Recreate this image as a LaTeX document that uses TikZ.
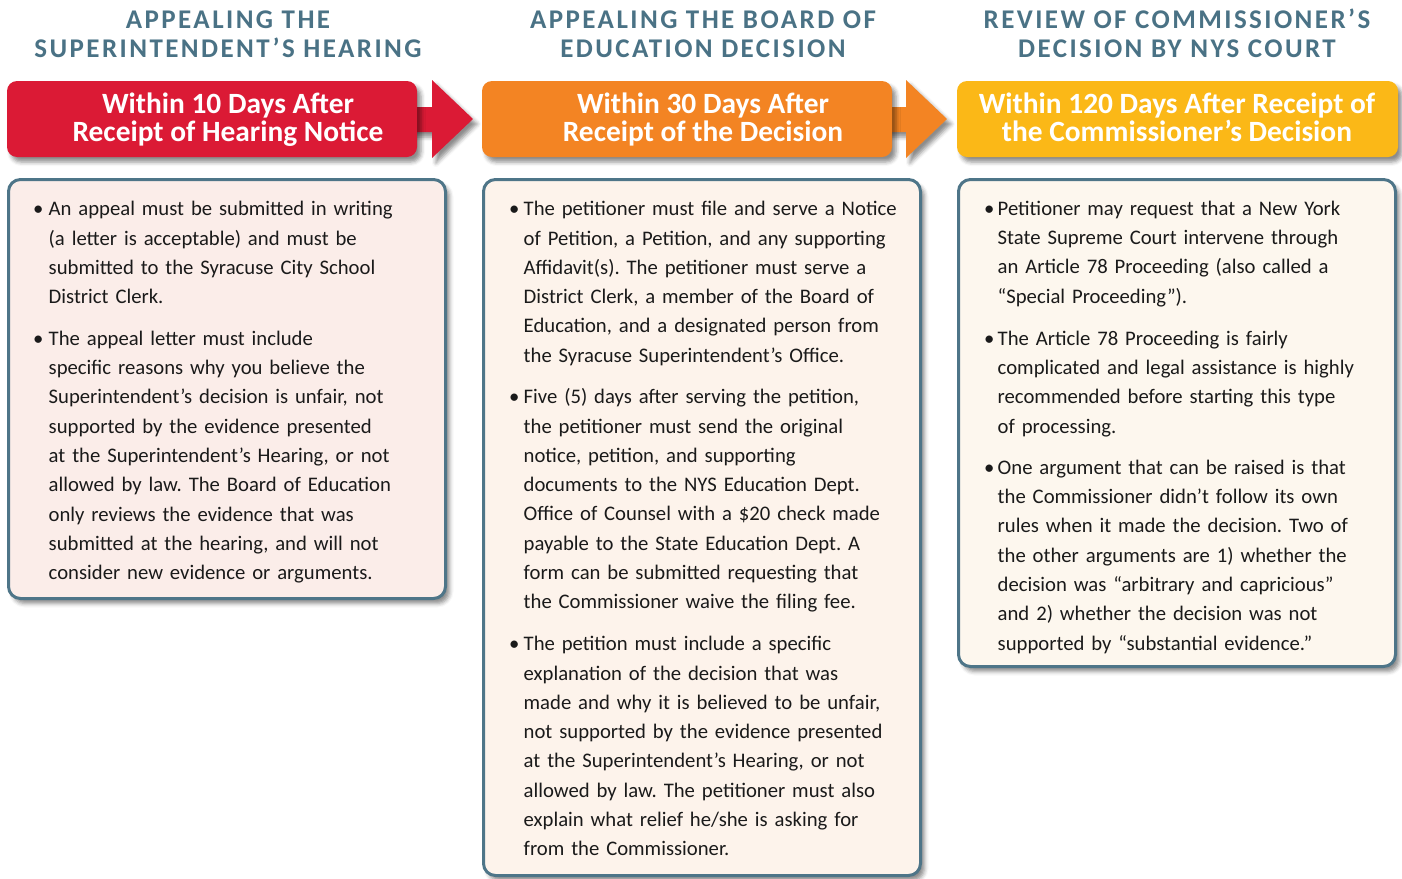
\documentclass[tikz,border=0pt]{standalone}
\usepackage{fontspec}
\setmainfont{Carlito}
\usetikzlibrary{shadows.blur}
\definecolor{titleteal}{HTML}{4A7285}
\definecolor{hred}{HTML}{DB1A35}
\definecolor{horange}{HTML}{F38423}
\definecolor{hyellow}{HTML}{FBB817}
\definecolor{boxline}{HTML}{4E7588}
\definecolor{fillA}{HTML}{FBEDE9}
\definecolor{fillB}{HTML}{FDF3EB}
\definecolor{fillC}{HTML}{FDF7EE}
\definecolor{bodytext}{HTML}{1A1A1A}
\begin{document}
\lineskiplimit=-30pt
\frenchspacing
\begin{tikzpicture}[x=1pt,y=-1pt,
  sh/.style={blur shadow={shadow xshift=4pt, shadow yshift=-5pt, shadow blur radius=4pt, shadow opacity=45}},
  coltitle/.style={anchor=north, inner sep=0pt, align=center, text=titleteal,
    font=\fontsize{27}{29}\selectfont\bfseries\addfontfeatures{LetterSpace=9}},
  hdrbox/.style={sh, rounded corners=10pt, inner sep=0pt, minimum height=76pt},
  hdrtext/.style={anchor=north, inner sep=0pt, align=center, text=white,
    font=\fontsize{29.4}{28}\selectfont\bfseries},
  bodybox/.style={sh, draw=boxline, line width=3pt, rounded corners=12pt, inner sep=0pt},
  itemtext/.style={anchor=north west, inner sep=0pt, align=left, text width=400pt, text=bodytext,
    font=\fontsize{20.7}{29.3}\selectfont},
  bul/.style={anchor=base west, inner sep=0pt, text=bodytext, font=\fontsize{20.7}{29.3}\selectfont},
  arrowshape/.style={sh}
]
\useasboundingbox (0,0) rectangle (1402,878);

% titles
\node[coltitle] (t1) at (228,6) {\rule{0pt}{22pt}APPEALING THE\\SUPERINTENDENT’S HEARING};
\node[coltitle] (t2) at (703,6) {\rule{0pt}{22pt}APPEALING THE BOARD OF\\EDUCATION DECISION};
\node[coltitle] (t3) at (1177,6) {\rule{0pt}{22pt}REVIEW OF COMMISSIONER’S\\DECISION BY NYS COURT};

% arrows
\coordinate (tip1) at (473,119);
\coordinate (tip2) at (947,119);
\fill[hred, arrowshape] (400,107) -- (432,107) -- (432,80) -- (tip1) -- (432,158) -- (432,132) -- (400,132) -- cycle;
\fill[horange, arrowshape] (875,107) -- (906,107) -- (906,80) -- (tip2) -- (906,158) -- (906,132) -- (875,132) -- cycle;

% header boxes
\node[hdrbox, fill=hred, minimum width=410pt] (h1) at (212,119) {};
\node[hdrbox, fill=horange, minimum width=410pt] (h2) at (687,119) {};
\node[hdrbox, fill=hyellow, minimum width=441pt] (h3) at (1177.5,119) {};
\node[hdrtext] (h1t) at (228,89) {\rule{0pt}{24pt}Within 10 Days After\\Receipt of Hearing Notice};
\node[hdrtext] (h2t) at (703,89) {\rule{0pt}{24pt}Within 30 Days After\\Receipt of the Decision};
\node[hdrtext] (h3t) at (1177,89) {\rule{0pt}{24pt}Within 120 Days After Receipt of\\the Commissioner’s Decision};

% body boxes
\node[bodybox, fill=fillA, minimum width=437pt, minimum height=419pt] (b1) at (227,389) {};
\node[bodybox, fill=fillB, minimum width=437pt, minimum height=696pt] (b2) at (702,527.5) {};
\node[bodybox, fill=fillC, minimum width=437pt, minimum height=487pt] (b3) at (1177,423) {};

% column 1
\node[bul] (p11) at (33,215.5) {•};
\node[itemtext] (i11) at (48.5,195.5) {\rule{0pt}{20pt}An appeal must be submitted in writing\\(a letter is acceptable) and must be\\submitted to the Syracuse City School\\District Clerk.};
\node[bul] (p12) at (33,345) {•};
\node[itemtext] (i12) at (48.5,325) {\rule{0pt}{20pt}The appeal letter must include\\specific reasons why you believe the\\Superintendent’s decision is unfair, not\\supported by the evidence presented\\at the Superintendent’s Hearing, or not\\allowed by law. The Board of Education\\only reviews the evidence that was\\submitted at the hearing, and will not\\consider new evidence or arguments.};

% column 2
\node[bul] (p21) at (509,215.5) {•};
\node[itemtext] (i21) at (523.5,195.5) {\rule{0pt}{20pt}The petitioner must file and serve a Notice\\of Petition, a Petition, and any supporting\\Affidavit(s). The petitioner must serve a\\District Clerk, a member of the Board of\\Education, and a designated person from\\the Syracuse Superintendent’s Office.};
\node[bul] (p22) at (509,403.5) {•};
\node[itemtext] (i22) at (523.5,383.5) {\rule{0pt}{20pt}Five (5) days after serving the petition,\\the petitioner must send the original\\notice, petition, and supporting\\documents to the NYS Education Dept.\\Office of Counsel with a \$20 check made\\payable to the State Education Dept. A\\form can be submitted requesting that\\the Commissioner waive the filing fee.};
\node[bul] (p23) at (509,650.5) {•};
\node[itemtext] (i23) at (523.5,630.5) {\rule{0pt}{20pt}The petition must include a specific\\explanation of the decision that was\\made and why it is believed to be unfair,\\not supported by the evidence presented\\at the Superintendent’s Hearing, or not\\allowed by law. The petitioner must also\\explain what relief he/she is asking for\\from the Commissioner.};

% column 3
\node[bul] (p31) at (984,215) {•};
\node[itemtext] (i31) at (997.5,195) {\rule{0pt}{20pt}Petitioner may request that a New York\\State Supreme Court intervene through\\an Article 78 Proceeding (also called a\\“Special Proceeding”).};
\node[bul] (p32) at (984,345) {•};
\node[itemtext] (i32) at (997.5,325) {\rule{0pt}{20pt}The Article 78 Proceeding is fairly\\complicated and legal assistance is highly\\recommended before starting this type\\of processing.};
\node[bul] (p33) at (984,474) {•};
\node[itemtext] (i33) at (997.5,454) {\rule{0pt}{20pt}One argument that can be raised is that\\the Commissioner didn’t follow its own\\rules when it made the decision. Two of\\the other arguments are 1) whether the\\decision was “arbitrary and capricious”\\and 2) whether the decision was not\\supported by “substantial evidence.”};
\end{tikzpicture}
\end{document}
